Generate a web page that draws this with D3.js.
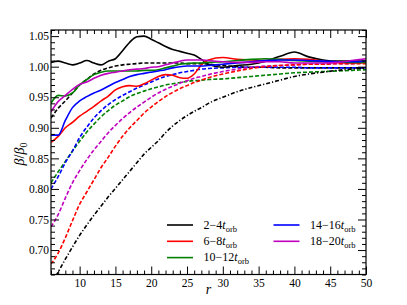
<!DOCTYPE html>
<html>
<head>
<meta charset="utf-8">
<script src="https://cdn.jsdelivr.net/npm/d3@7"></script>
<style>
  body { margin: 0; background: #fff; }
  svg { display: block; }
  text { font-family: "Liberation Serif", "Times New Roman", serif; fill: #000; }
</style>
</head>
<body>
<svg id="chart" width="407" height="305"></svg>
<script>
// radius grid (same for every curve)
const rValues = [6, 7, 8, 9, 10, 11, 12, 13, 14, 15, 16, 17, 18, 19, 20, 21, 22, 23, 24, 25, 26, 27, 28,
                 30, 32, 34, 36, 38, 40, 42, 44, 46, 48, 50];

// solid lines (time windows)
const solid2to4   = [1.007, 1.009, 1.006, 1.003, 1.006, 1.010, 1.006, 1.003, 1.009, 1.013, 1.026, 1.040, 1.049, 1.050, 1.045, 1.039, 1.033, 1.028, 1.025, 1.022, 1.019, 1.012, 1.004,
                     0.999, 1.002, 1.004, 1.009, 1.017, 1.024, 1.016, 1.011, 1.009, 1.009, 1.009];
const solid6to8   = [0.876, 0.886, 0.900, 0.909, 0.919, 0.927, 0.935, 0.944, 0.952, 0.962, 0.967, 0.969, 0.968, 0.972, 0.978, 0.984, 0.987, 0.986, 0.982, 0.981, 0.988, 1.003, 1.011,
                     1.015, 1.012, 1.011, 1.010, 1.012, 1.013, 1.012, 1.009, 1.007, 1.006, 1.007];
const solid10to12 = [0.940, 0.953, 0.952, 0.957, 0.970, 0.979, 0.987, 0.991, 0.993, 0.993, 0.993, 0.993, 0.993, 0.994, 0.994, 0.995, 0.998, 1.001, 1.004, 1.005, 1.006, 1.006, 1.007,
                     1.008, 1.010, 1.012, 1.013, 1.012, 1.010, 1.009, 1.008, 1.008, 1.007, 1.007];
const solid14to16 = [0.888, 0.888, 0.912, 0.933, 0.944, 0.951, 0.957, 0.962, 0.968, 0.974, 0.979, 0.984, 0.987, 0.989, 0.991, 0.993, 0.995, 0.998, 1.000, 1.001, 1.001, 1.001, 1.002,
                     1.004, 1.006, 1.008, 1.010, 1.011, 1.011, 1.010, 1.009, 1.008, 1.008, 1.009];
const solid18to20 = [0.926, 0.943, 0.953, 0.963, 0.971, 0.975, 0.981, 0.986, 0.989, 0.991, 0.993, 0.995, 0.996, 0.997, 0.999, 1.000, 1.003, 1.006, 1.009, 1.011, 1.011, 1.011, 1.010,
                     1.008, 1.007, 1.007, 1.008, 1.008, 1.006, 1.006, 1.006, 1.007, 1.010, 1.013];

// dashed lines
const dashedBlack   = [0.916, 0.932, 0.944, 0.957, 0.970, 0.979, 0.988, 0.994, 0.998, 1.001, 1.003, 1.004, 1.005, 1.006, 1.006, 1.006, 1.006, 1.006, 1.006, 1.005, 1.005, 1.005, 1.004,
                       1.002, 1.000, 0.999, 0.999, 0.998, 0.998, 0.998, 0.998, 0.998, 0.998, 0.998];
const dashedRed     = [0.677, 0.695, 0.720, 0.748, 0.775, 0.795, 0.815, 0.835, 0.852, 0.870, 0.886, 0.900, 0.912, 0.924, 0.934, 0.943, 0.951, 0.958, 0.964, 0.969, 0.974, 0.978, 0.982,
                       0.988, 0.993, 0.997, 1.000, 1.002, 1.003, 1.004, 1.004, 1.005, 1.005, 1.005];
const dashedGreen   = [0.810, 0.828, 0.845, 0.862, 0.878, 0.893, 0.906, 0.918, 0.928, 0.937, 0.944, 0.951, 0.956, 0.960, 0.964, 0.967, 0.970, 0.972, 0.974, 0.976, 0.977, 0.978, 0.979,
                       0.980, 0.982, 0.984, 0.986, 0.988, 0.990, 0.991, 0.992, 0.993, 0.994, 0.995];
const dashedBlue    = [0.800, 0.820, 0.843, 0.862, 0.884, 0.901, 0.916, 0.928, 0.938, 0.946, 0.953, 0.959, 0.965, 0.970, 0.975, 0.980, 0.984, 0.987, 0.990, 0.992, 0.994, 0.996, 0.997,
                       0.998, 0.999, 0.999, 0.999, 0.999, 0.999, 0.998, 0.998, 0.998, 0.998, 0.998];
const dashedMagenta = [0.738, 0.758, 0.785, 0.810, 0.830, 0.848, 0.864, 0.878, 0.892, 0.904, 0.915, 0.925, 0.934, 0.942, 0.950, 0.957, 0.963, 0.968, 0.973, 0.977, 0.981, 0.984, 0.987,
                       0.992, 0.996, 0.999, 1.001, 1.002, 1.003, 1.004, 1.004, 1.005, 1.005, 1.006];
const dashDotBlack  = [0.645, 0.664, 0.685, 0.705, 0.724, 0.741, 0.757, 0.772, 0.787, 0.801, 0.815, 0.829, 0.843, 0.857, 0.868, 0.879, 0.892, 0.903, 0.912, 0.920, 0.927, 0.933, 0.940,
                       0.950, 0.959, 0.966, 0.972, 0.978, 0.984, 0.988, 0.991, 0.994, 0.996, 0.998];

const legendLabels = ["2\u22124", "6\u22128", "10\u221212", "14\u221216", "18\u221220"];
const xTicks = [10, 15, 20, 25, 30, 35, 40, 45, 50];
const yTicks = [0.70, 0.75, 0.80, 0.85, 0.90, 0.95, 1.00, 1.05];

// styles
const colors = ["#000000", "#ff0000", "#008000", "#0000ff", "#bf00bf"];

const W = 407, H = 305;
const margin = {top: 30, right: 41, bottom: 30.5, left: 51};

const svg = d3.select("#chart");

const x = d3.scaleLinear().domain([6, 50]).range([margin.left, W - margin.right]);
const y = d3.scaleLinear().domain([0.66, 1.06]).range([H - margin.bottom, margin.top]);

svg.append("clipPath").attr("id", "plotclip")
  .append("rect")
  .attr("x", margin.left).attr("y", margin.top)
  .attr("width", x(50) - x(6)).attr("height", y(0.66) - y(1.06));

const line = d3.line()
  .x(d => x(d[0]))
  .y(d => y(d[1]))
  .curve(d3.curveMonotoneX);

const plot = svg.append("g").attr("clip-path", "url(#plotclip)");

// dashed first, solid on top
const dashedSeries = [
  {vals: dashedBlack, color: colors[0], dash: "4,2"},
  {vals: dashedGreen, color: colors[2], dash: "4,2"},
  {vals: dashedBlue, color: colors[3], dash: "4,2"},
  {vals: dashedMagenta, color: colors[4], dash: "4,2"},
  {vals: dashedRed, color: colors[1], dash: "4,2"},
  {vals: dashDotBlack, color: colors[0], dash: "4,2,1.2,2"}
];
const solidSeries = [solid2to4, solid6to8, solid10to12, solid14to16, solid18to20];

dashedSeries.forEach(s => {
  plot.append("path")
    .datum(rValues.map((r, i) => [r, s.vals[i]]))
    .attr("fill", "none")
    .attr("stroke", s.color)
    .attr("stroke-width", 1.6)
    .attr("stroke-dasharray", s.dash)
    .attr("d", line);
});

solidSeries.forEach((vals, k) => {
  plot.append("path")
    .datum(rValues.map((r, i) => [r, vals[i]]))
    .attr("fill", "none")
    .attr("stroke", colors[k])
    .attr("stroke-width", 1.6)
    .attr("d", line);
});

// axes - ticks pointing inwards on all four sides
const minorX = d3.range(6, 51).filter(d => d % 5 !== 0);
const minorY = d3.range(66, 107).filter(d => d % 5 !== 0).map(d => d / 100);

function styleAxis(g) {
  g.select(".domain").remove();
  g.selectAll(".tick line").attr("stroke", "#000").attr("stroke-width", 1);
  g.selectAll(".tick text").style("font-size", "11.5px").style("font-family", "'Liberation Serif', serif");
}

const pBottom = H - margin.bottom, pTop = margin.top, pLeft = margin.left, pRight = W - margin.right;

svg.append("g").attr("transform", `translate(0,${pBottom})`)
  .call(d3.axisBottom(x).tickValues(xTicks).tickSize(-8).tickPadding(4).tickFormat(d3.format("d")))
  .call(styleAxis);
svg.append("g").attr("transform", `translate(0,${pBottom})`)
  .call(d3.axisBottom(x).tickValues(minorX).tickSize(-4).tickFormat(""))
  .call(styleAxis);
svg.append("g").attr("transform", `translate(0,${pTop})`)
  .call(d3.axisTop(x).tickValues(xTicks).tickSize(-8).tickFormat(""))
  .call(styleAxis);
svg.append("g").attr("transform", `translate(0,${pTop})`)
  .call(d3.axisTop(x).tickValues(minorX).tickSize(-4).tickFormat(""))
  .call(styleAxis);

svg.append("g").attr("transform", `translate(${pLeft},0)`)
  .call(d3.axisLeft(y).tickValues(yTicks).tickSize(-8).tickPadding(2).tickFormat(d3.format(".2f")))
  .call(styleAxis);
svg.append("g").attr("transform", `translate(${pLeft},0)`)
  .call(d3.axisLeft(y).tickValues(minorY).tickSize(-4).tickFormat(""))
  .call(styleAxis);
svg.append("g").attr("transform", `translate(${pRight},0)`)
  .call(d3.axisRight(y).tickValues(yTicks).tickSize(-8).tickFormat(""))
  .call(styleAxis);
svg.append("g").attr("transform", `translate(${pRight},0)`)
  .call(d3.axisRight(y).tickValues(minorY).tickSize(-4).tickFormat(""))
  .call(styleAxis);

// frame
svg.append("rect")
  .attr("x", pLeft).attr("y", pTop)
  .attr("width", pRight - pLeft).attr("height", pBottom - pTop)
  .attr("fill", "none").attr("stroke", "#000").attr("stroke-width", 1.2);

// axis labels
svg.append("text")
  .attr("x", (pLeft + pRight) / 2).attr("y", 294)
  .attr("text-anchor", "middle")
  .style("font-size", "14px").style("font-style", "italic")
  .text("r");

const yl = svg.append("text")
  .attr("transform", "translate(24,154) rotate(-90)")
  .attr("text-anchor", "middle")
  .style("font-size", "14px");
yl.append("tspan").style("font-style", "italic").text("\u03b2");
yl.append("tspan").text("/");
yl.append("tspan").style("font-style", "italic").text("\u03b2");
yl.append("tspan").attr("dy", 3).style("font-size", "10px").text("0");

// legend
const legend = svg.append("g");
legendLabels.forEach((lab, k) => {
  const col = k < 3 ? 0 : 1;
  const row = k < 3 ? k : k - 3;
  const lx = col === 0 ? 167 : 273.5;
  const ly = 225 + row * 16.3;
  legend.append("line")
    .attr("x1", lx).attr("x2", lx + 26)
    .attr("y1", ly).attr("y2", ly)
    .attr("stroke", colors[k]).attr("stroke-width", 1.6);
  const t = legend.append("text")
    .attr("x", lx + 36.5).attr("y", ly + 3.5)
    .style("font-size", "12px");
  t.append("tspan").text(lab);
  t.append("tspan").style("font-style", "italic").text("t");
  t.append("tspan").attr("dy", 3).style("font-size", "8.5px").text("orb");
});
</script>
</body>
</html>
